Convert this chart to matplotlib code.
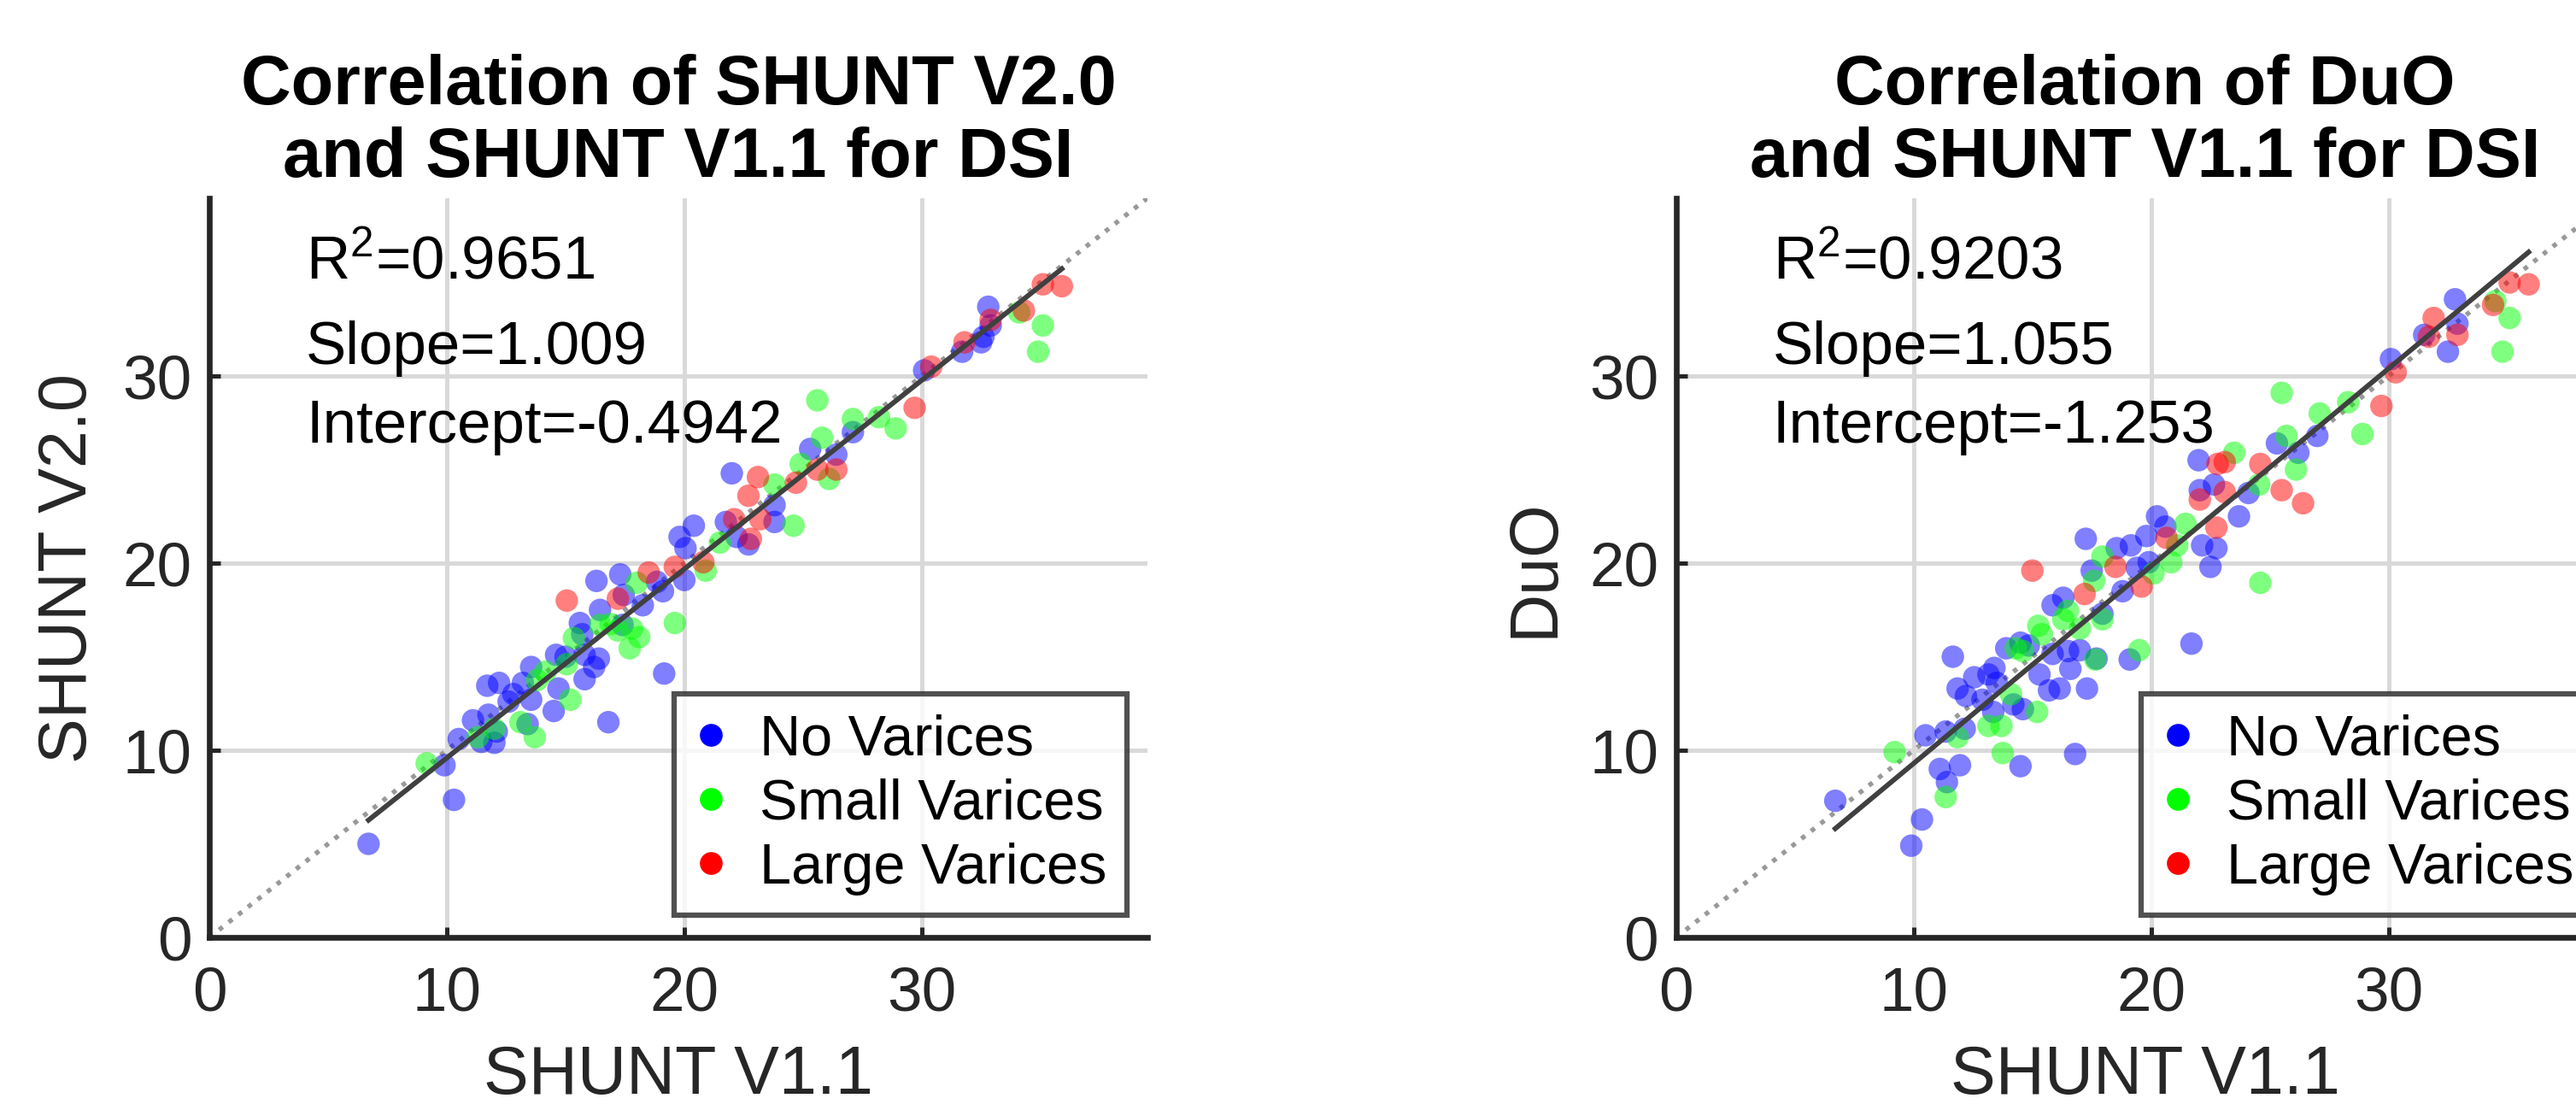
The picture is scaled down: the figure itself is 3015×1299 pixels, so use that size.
import matplotlib
matplotlib.use('Agg')
import matplotlib.pyplot as plt
import numpy as np
from matplotlib.lines import Line2D

plt.rcParams['font.family'] = ['Liberation Sans', 'DejaVu Sans']
plt.rcParams['mathtext.default'] = 'regular'

# Panel A: SHUNT V2.0 vs SHUNT V1.1
a_no_x = [6.7, 9.9, 10.3, 10.5, 11.1, 11.45, 12.0, 11.75, 12.1, 11.7, 12.2, 12.6, 12.8, 13.2,
          13.55, 13.55, 13.4, 14.5, 14.7, 14.6, 15.0, 15.8, 16.2, 16.4, 15.8, 15.6, 16.45, 16.8,
          19.15, 16.3, 17.3, 17.45, 18.25, 19.1, 18.85, 20.0, 20.4, 20.05, 19.8, 22.2, 22.7, 23.8,
          21.75, 17.4, 15.7, 22.0, 23.8, 25.3, 27.1, 26.4, 30.1, 31.7, 32.6, 32.8, 32.9, 32.5]
a_no_y = [5.0, 9.2, 7.35, 10.6, 11.6, 10.45, 10.4, 11.9, 11.0, 13.45, 13.6, 12.6, 13.0, 13.6,
          14.45, 12.7, 11.4, 12.1, 13.3, 15.1, 15.0, 13.8, 14.45, 14.9, 15.1, 16.8, 17.5, 11.5,
          14.1, 19.05, 19.4, 18.3, 17.75, 18.5, 19.0, 19.1, 22.0, 20.8, 21.4, 21.4, 21.0, 22.2,
          22.2, 16.7, 16.2, 24.8, 23.1, 26.1, 27.0, 25.8, 30.3, 31.3, 32.1, 33.7, 32.7, 31.8]
a_small_x = [9.15, 11.3, 12.0, 13.1, 13.7, 15.2, 13.8, 14.15, 15.05, 15.35, 16.45, 17.2, 17.8,
             18.1, 17.7, 18.0, 19.6, 20.9, 21.5, 24.6, 16.9, 23.8, 24.9, 25.6, 25.8, 26.1, 27.1,
             28.2, 28.9, 34.1, 35.1, 34.9]
a_small_y = [9.3, 10.7, 11.15, 11.5, 10.7, 12.7, 13.75, 14.2, 14.6, 16.0, 16.7, 16.4, 16.5,
             16.05, 15.45, 18.95, 16.8, 19.6, 21.1, 22.0, 16.75, 24.2, 25.3, 28.7, 26.7, 24.5, 27.7,
             27.8, 27.2, 33.4, 32.7, 31.3]
a_large_x = [15.05, 17.2, 18.5, 19.6, 20.8, 22.1, 22.8, 23.2, 22.7, 23.1, 24.7, 25.6, 26.4,
             29.7, 30.4, 31.8, 32.9, 34.3, 35.1, 35.9]
a_large_y = [18.0, 18.1, 19.5, 19.8, 20.05, 22.35, 21.3, 22.35, 23.6, 24.6, 24.3, 25.0, 25.0,
             28.3, 30.5, 31.8, 33.0, 33.5, 34.9, 34.8]

# Panel B: DuO vs SHUNT V1.1
b_no_x = [6.7, 9.9, 10.35, 11.1, 11.95, 11.4, 10.5, 11.35, 12.15, 14.5, 16.8, 11.65, 11.85, 12.2,
          12.55, 12.9, 13.15, 13.4, 13.5, 13.9, 13.35, 14.2, 14.6, 14.5, 14.85, 15.3, 15.7, 16.15,
          15.85, 16.5, 17.0, 16.6, 17.3, 17.7, 19.1, 21.7, 15.85, 16.3, 17.25, 17.5, 17.95, 18.55,
          18.8, 19.15, 19.4, 19.8, 19.9, 20.25, 20.6, 22.15, 22.75, 22.5, 22.05, 22.65, 23.7, 24.1,
          22.0, 25.3, 26.2, 27.0, 30.1, 31.5, 32.5, 32.8, 32.9]
b_no_y = [7.3, 4.9, 6.3, 9.0, 9.2, 8.3, 10.8, 11.0, 11.15, 9.15, 9.8, 15.0, 13.3, 12.9,
          13.9, 12.7, 14.05, 14.4, 13.6, 15.45, 12.05, 12.45, 12.2, 15.75, 15.6, 14.05, 13.2, 13.3,
          15.15, 15.3, 15.35, 14.35, 13.3, 14.9, 14.85, 15.7, 17.75, 18.15, 21.3, 19.6, 17.3, 20.8,
          18.5, 20.95, 19.75, 21.45, 20.05, 22.5, 21.95, 20.95, 20.8, 19.8, 23.9, 24.2, 22.5, 23.75,
          25.5, 26.4, 25.9, 26.8, 30.9, 32.2, 31.3, 34.1, 32.8]
b_small_x = [9.2, 11.35, 11.85, 13.15, 13.7, 13.75, 15.2, 14.1, 14.3, 14.6, 15.25, 15.4, 16.3,
             16.5, 17.0, 17.6, 17.95, 17.95, 17.65, 19.5, 20.1, 20.85, 21.1, 21.45, 24.6, 24.55,
             23.5, 25.5, 25.7, 26.1, 27.1, 28.3, 28.9, 34.5, 35.1, 34.8]
b_small_y = [9.9, 7.5, 10.7, 11.3, 11.3, 9.85, 12.05, 13.0, 15.45, 15.3, 16.65, 16.2, 17.0,
             17.45, 16.5, 19.05, 20.35, 17.0, 14.85, 15.35, 19.45, 20.05, 20.95, 22.1, 18.95, 24.2,
             25.9, 29.1, 26.8, 25.0, 28.0, 28.6, 26.9, 34.0, 33.1, 31.3]
b_large_x = [15.0, 17.2, 18.5, 19.6, 20.65, 22.75, 22.05, 23.1, 25.5, 26.4, 22.8, 23.1, 24.6,
             29.7, 30.3, 31.9, 31.7, 32.9, 34.4, 35.1, 35.9]
b_large_y = [19.6, 18.35, 19.8, 18.75, 21.35, 21.9, 23.4, 23.8, 23.9, 23.2, 25.3, 25.4, 25.3,
             28.4, 30.2, 33.1, 32.1, 32.2, 33.8, 35.0, 34.9]

groups = ['No Varices', 'Small Varices', 'Large Varices']
group_colors = ['#0000ff', '#00ff00', '#ff0000']

panels = [
    dict(title='Correlation of SHUNT V2.0\nand SHUNT V1.1 for DSI', ylabel='SHUNT V2.0',
         xs=[a_no_x, a_small_x, a_large_x], ys=[a_no_y, a_small_y, a_large_y],
         r2='0.9651', slope=1.009, intercept=-0.4942, slope_txt='1.009', int_txt='-0.4942'),
    dict(title='Correlation of DuO\nand SHUNT V1.1 for DSI', ylabel='DuO',
         xs=[b_no_x, b_small_x, b_large_x], ys=[b_no_y, b_small_y, b_large_y],
         r2='0.9203', slope=1.055, intercept=-1.253, slope_txt='1.055', int_txt='-1.253'),
]

lim = 39.5
dark = '#262626'

fig = plt.figure(figsize=(3015 / 300, 1299 / 300), dpi=300)
lefts = [0.0813, 0.6507]

for left, p in zip(lefts, panels):
    ax = fig.add_axes([left, 0.1555, 0.3641, 0.6659])
    ax.set_xlim(0, lim)
    ax.set_ylim(0, lim)
    ax.set_xticks([0, 10, 20, 30])
    ax.set_yticks([0, 10, 20, 30])
    ax.grid(True, color='#d9d9d9', linewidth=1.2, zorder=0)
    ax.set_axisbelow(True)
    for s in ['top', 'right']:
        ax.spines[s].set_visible(False)
    for s in ['left', 'bottom']:
        ax.spines[s].set_color(dark)
        ax.spines[s].set_linewidth(1.6)
    ax.tick_params(direction='in', length=3, width=1.2, color=dark,
                   labelsize=17.5, labelcolor=dark)
    ax.tick_params(axis='x', pad=8)
    ax.tick_params(axis='y', pad=5)

    ax.plot([0, lim], [0, lim], linestyle=':', color='#999999', linewidth=1.3, zorder=1)
    for gx, gy, c in zip(p['xs'], p['ys'], group_colors):
        ax.scatter(gx, gy, s=40, color=c, alpha=0.5, edgecolors='none', zorder=2)

    allx = np.concatenate([np.asarray(v) for v in p['xs']])
    fx = np.array([allx.min(), allx.max()])
    ax.plot(fx, p['slope'] * fx + p['intercept'], color='#404040', linewidth=1.4, zorder=3)

    tx = 0.103
    ax.text(tx, 0.912, 'R$^2$=' + p['r2'], transform=ax.transAxes, fontsize=17, va='center')
    ax.text(tx, 0.797, 'Slope=' + p['slope_txt'], transform=ax.transAxes, fontsize=17, va='center')
    ax.text(tx, 0.690, 'Intercept=' + p['int_txt'], transform=ax.transAxes, fontsize=17, va='center')

    handles = [Line2D([], [], linestyle='none', marker='o', markersize=6.4, color=c,
                      markeredgewidth=0) for c in group_colors]
    leg = ax.legend(handles, groups, loc='lower right', bbox_to_anchor=(0.978, 0.03),
                    fontsize=16, frameon=True, fancybox=False, handlelength=0.6,
                    handletextpad=0.55, borderpad=0.35, labelspacing=0.2, borderaxespad=0)
    leg.get_frame().set_edgecolor(dark)
    leg.get_frame().set_linewidth(1.5)
    leg.set_zorder(5)

    ax.set_title(p['title'], fontsize=19.5, fontweight='bold', pad=6, linespacing=1.15)
    ax.set_xlabel('SHUNT V1.1', fontsize=19, color=dark, labelpad=6)
    ax.set_ylabel(p['ylabel'], fontsize=19, color=dark, labelpad=6)

fig.savefig('out.png', dpi=300)
